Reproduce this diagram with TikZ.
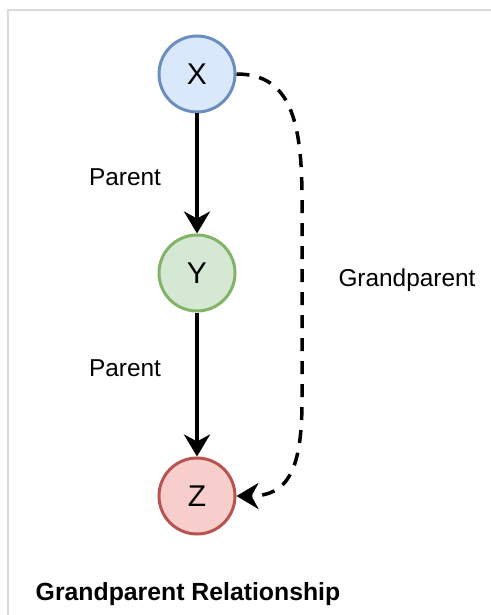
\documentclass[tikz,border=0pt]{standalone}
\usepackage{fontspec}
\setmainfont{Liberation Sans}
\usetikzlibrary{arrows.meta}
\definecolor{xfill}{HTML}{DAE8FC}
\definecolor{xline}{HTML}{6C8EBF}
\definecolor{yfill}{HTML}{D5E8D4}
\definecolor{yline}{HTML}{82B366}
\definecolor{zfill}{HTML}{F8CECC}
\definecolor{zline}{HTML}{B85450}
\definecolor{frame}{HTML}{DADADA}
\begin{document}
\begin{tikzpicture}[x=0.5pt, y=-0.5pt]
    \tikzstyle{member} = [draw, circle, line width=1.5pt, minimum size=38pt, inner sep=0pt, font=\fontsize{15}{18}\selectfont]
    \tikzstyle{la} = [line width=1.75pt, -{Stealth[length=11pt, width=13pt, inset=3.5pt]}]
    \tikzstyle{label} = [font=\fontsize{12.2}{14}\selectfont]
    \useasboundingbox (0,0) rectangle (491,615);
    \draw[frame, line width=1pt] (8,615) -- (8,10) -- (491,10);
    \node[member, fill=xfill, draw=xline] (x) at (197, 74) {X};
    \node[member, fill=yfill, draw=yline] (y) at (197, 273) {Y};
    \node[member, fill=zfill, draw=zline] (z) at (197, 496) {Z};
    \node[label] (p1) at (125, 177) {Parent};
    \node[label] (p2) at (125, 368) {Parent};
    \node[label] (gp) at (407, 280) {Grandparent};
    \node[font=\fontsize{12.4}{14}\selectfont\bfseries] (title) at (188, 594) {Grandparent Relationship};
    \draw[la] (x) -- (y);
    \draw[la] (y) -- (z);
    \draw[la, dash pattern=on 6.5pt off 5pt] (x.east) .. controls (290, 74) and (302, 120) .. (302, 200)
        -- (302, 400) .. controls (302, 470) and (288, 496) .. (z.east);
\end{tikzpicture}
\end{document}
